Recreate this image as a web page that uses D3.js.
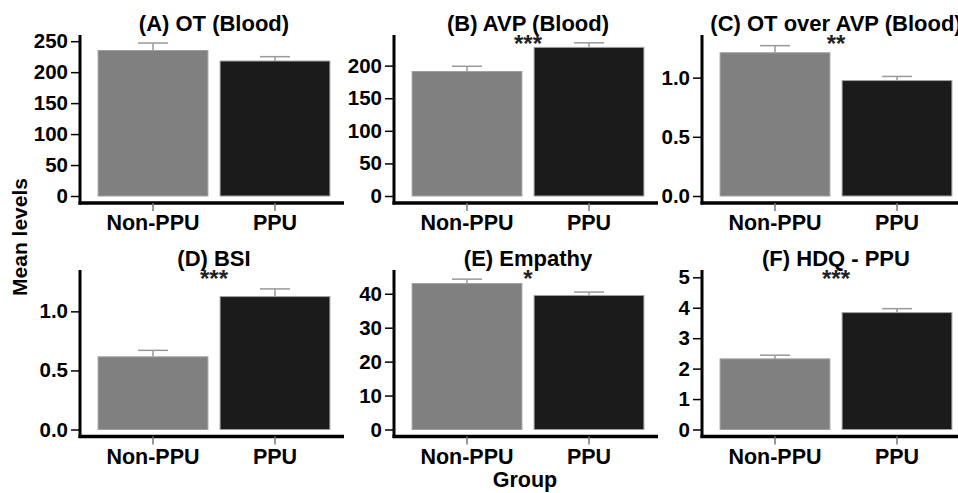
<!DOCTYPE html>
<html>
<head>
<meta charset="utf-8">
<script src="https://cdn.jsdelivr.net/npm/d3@7"></script>
<style>
  body { margin: 0; background: #fff; }
  svg { display: block; font-family: "Liberation Sans", Arial, sans-serif; font-weight: bold; }
</style>
</head>
<body>
<div id="chart"></div>
<script>
// Data
const groups = ['Non-PPU', 'PPU'];
const titles = ['(A) OT (Blood)', '(B) AVP (Blood)', '(C) OT over AVP (Blood)',
                '(D) BSI', '(E) Empathy', '(F) HDQ - PPU'];
const means = [[235, 218], [191, 228], [1.21, 0.975], [0.615, 1.125], [43.0, 39.5], [2.32, 3.84]];
const sems  = [[12, 7], [8, 7], [0.06, 0.035], [0.055, 0.065], [1.3, 1.0], [0.12, 0.13]];
const yMax  = [260, 247, 1.36, 1.35, 47, 5.24];
const yTicks = [[0, 50, 100, 150, 200, 250], [0, 50, 100, 150, 200], [0, 0.5, 1.0],
                [0, 0.5, 1.0], [0, 10, 20, 30, 40], [0, 1, 2, 3, 4, 5]];
const tickFmt = ['d', 'd', '.1f', '.1f', 'd', 'd'];
const stars = ['', '***', '**', '***', '*', '***'];
const fills = ['#808080', '#1b1b1b'];

const width = 958, height = 493;
const colX = [80, 394, 702];
const rowTop = [35, 270], rowZero = [196, 429.5];

const svg = d3.select('#chart').append('svg')
    .attr('width', width)
    .attr('height', height);

titles.forEach(function (title, i) {
    const ax = colX[i % 3], top = rowTop[Math.floor(i / 3)], zero = rowZero[Math.floor(i / 3)];
    const axisY = zero + 7;

    const x = d3.scaleBand().domain(groups).range([ax + 12, ax + 256]).paddingInner(0.1).paddingOuter(0.05);
    const y = d3.scaleLinear().domain([0, yMax[i]]).range([zero, top]);
    const mid = ax + 134;

    const g = svg.append('g');

    // Bars
    g.selectAll('.bar')
        .data(groups)
        .enter().append('rect')
        .attr('x', d => x(d))
        .attr('y', (d, j) => y(means[i][j]))
        .attr('width', x.bandwidth())
        .attr('height', (d, j) => zero - y(means[i][j]))
        .attr('fill', (d, j) => fills[j])
        .attr('stroke', '#a0a0a0')
        .attr('stroke-width', 1);

    // Error bars (upper only)
    const err = g.selectAll('.err').data(groups).enter().append('g')
        .attr('stroke', '#999')
        .attr('stroke-width', 1.5);
    err.append('line')
        .attr('x1', d => x(d) + x.bandwidth() / 2)
        .attr('x2', d => x(d) + x.bandwidth() / 2)
        .attr('y1', (d, j) => y(means[i][j]))
        .attr('y2', (d, j) => y(means[i][j] + sems[i][j]));
    err.append('line')
        .attr('x1', d => x(d) + x.bandwidth() / 2 - 15)
        .attr('x2', d => x(d) + x.bandwidth() / 2 + 15)
        .attr('y1', (d, j) => y(means[i][j] + sems[i][j]))
        .attr('y2', (d, j) => y(means[i][j] + sems[i][j]));

    // Y axis
    const yAxis = g.append('g')
        .attr('transform', `translate(${ax},0)`)
        .call(d3.axisLeft(y).tickValues(yTicks[i]).tickFormat(d3.format(tickFmt[i])).tickSize(9).tickPadding(3));
    yAxis.select('.domain').remove();
    yAxis.selectAll('.tick line').attr('stroke', '#000').attr('stroke-width', 1.5);
    yAxis.selectAll('.tick text')
        .attr('fill', '#000')
        .style('font-size', '20.5px')
        .style('font-family', '"Liberation Sans", Arial, sans-serif')
        .style('font-weight', 'bold');

    g.append('line')
        .attr('x1', ax).attr('x2', ax)
        .attr('y1', top).attr('y2', axisY + 1.5)
        .attr('stroke', '#000').attr('stroke-width', 3);

    // X axis
    g.append('line')
        .attr('x1', ax - 1.5).attr('x2', ax + 264)
        .attr('y1', axisY).attr('y2', axisY)
        .attr('stroke', '#000').attr('stroke-width', 3.5);
    g.selectAll('.xtick').data(groups).enter().append('line')
        .attr('x1', d => x(d) + x.bandwidth() / 2)
        .attr('x2', d => x(d) + x.bandwidth() / 2)
        .attr('y1', axisY).attr('y2', axisY + 8)
        .attr('stroke', '#777').attr('stroke-width', 1.5);
    g.selectAll('.xlab').data(groups).enter().append('text')
        .attr('x', d => x(d) + x.bandwidth() / 2)
        .attr('y', axisY + 27)
        .attr('text-anchor', 'middle')
        .style('font-size', '21.5px')
        .text(d => d);

    // Title and significance
    g.append('text')
        .attr('x', mid)
        .attr('y', top - 4)
        .attr('text-anchor', 'middle')
        .style('font-size', '22px')
        .text(title);
    g.append('text')
        .attr('x', mid)
        .attr('y', top + 17)
        .attr('text-anchor', 'middle')
        .attr('fill', '#222')
        .style('font-size', '24px')
        .text(stars[i]);
});

// Shared axis titles
svg.append('text')
    .attr('transform', 'translate(27,237) rotate(-90)')
    .attr('text-anchor', 'middle')
    .style('font-size', '21px')
    .text('Mean levels');

svg.append('text')
    .attr('x', 525)
    .attr('y', 487)
    .attr('text-anchor', 'middle')
    .style('font-size', '21.5px')
    .text('Group');
</script>
</body>
</html>
